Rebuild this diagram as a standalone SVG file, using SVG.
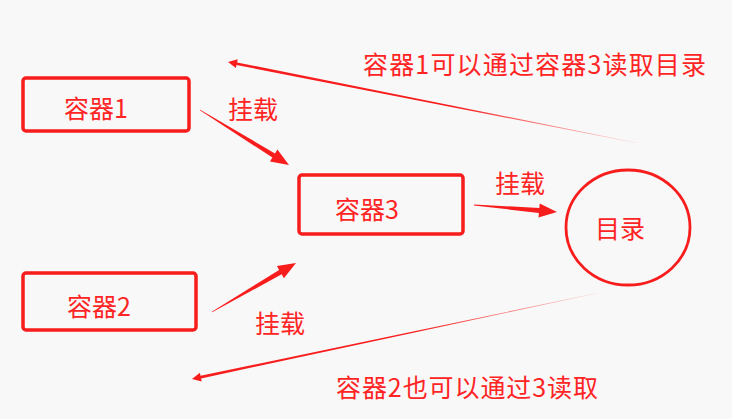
<svg xmlns="http://www.w3.org/2000/svg" width="732" height="419" viewBox="0 0 732 419">
<style>
.box{fill:none;stroke:#f81d1d;stroke-width:3.5}
.circ{fill:none;stroke:#f81d1d;stroke-width:2.8}
.t{font-family:"Noto Sans CJK SC","Noto Sans",sans-serif;font-size:25px;fill:#ff2424}
.arr{fill:#f81d1d;stroke:none}
</style>
<defs>
<linearGradient id="g4" gradientUnits="userSpaceOnUse" x1="637" y1="143" x2="228" y2="62">
<stop offset="0" stop-color="#f81d1d" stop-opacity="0.1"/>
<stop offset="0.45" stop-color="#f81d1d" stop-opacity="1"/>
<stop offset="1" stop-color="#f81d1d"/>
</linearGradient>
<linearGradient id="g5" gradientUnits="userSpaceOnUse" x1="598" y1="293" x2="192" y2="379">
<stop offset="0" stop-color="#f81d1d" stop-opacity="0.1"/>
<stop offset="0.45" stop-color="#f81d1d" stop-opacity="1"/>
<stop offset="1" stop-color="#f81d1d"/>
</linearGradient>
</defs>
<rect width="732" height="419" fill="#f8f8f8"/>
<g id="connectors">
<polygon class="arr" points="200.16,109.74 275.0,153.4 277.4,149.5 289,165 270.0,161.5 272.4,157.6 199.84,110.26"/>
<polygon class="arr" points="212.15,312.26 281.7,274.3 283.9,278.2 296,263 276.9,266.1 279.1,269.9 211.85,311.74"/>
<polygon class="arr" points="474.03,204.6 539.3,208.0 539.7,203.5 557,212 538.5,217.5 538.9,213.0 473.97,205.4"/>
<polygon fill="url(#g4)" points="637.04,142.8 237.1,62.4 237.7,59.3 228,62 235.9,68.1 236.5,65.0 636.96,143.2"/>
<polygon fill="url(#g5)" points="598.04,293.2 201.1,378.4 201.7,381.5 192,379 199.9,372.7 200.5,375.8 597.96,292.8"/>
<text class="t" x="228" y="119">挂载</text>
<text class="t" x="495" y="192.5">挂载</text>
<text class="t" x="255" y="333">挂载</text>
<text class="t" x="363" y="73.5" textLength="343" lengthAdjust="spacing">容器1可以通过容器3读取目录</text>
<text class="t" x="336" y="397" textLength="262" lengthAdjust="spacing">容器2也可以通过3读取</text>
</g>
<g id="node-c1">
<rect class="box" x="23" y="78" width="166" height="53" rx="3"/>
<text class="t" x="64" y="118">容器1</text>
</g>
<g id="node-c3">
<rect class="box" x="299" y="175" width="164" height="59" rx="3"/>
<text class="t" x="335" y="219">容器3</text>
</g>
<g id="node-c2">
<rect class="box" x="23" y="273" width="173" height="57" rx="3"/>
<text class="t" x="67" y="316">容器2</text>
</g>
<g id="node-dir">
<ellipse class="circ" cx="628" cy="227.5" rx="62" ry="57.5"/>
<text class="t" x="595" y="238">目录</text>
</g>
</svg>
